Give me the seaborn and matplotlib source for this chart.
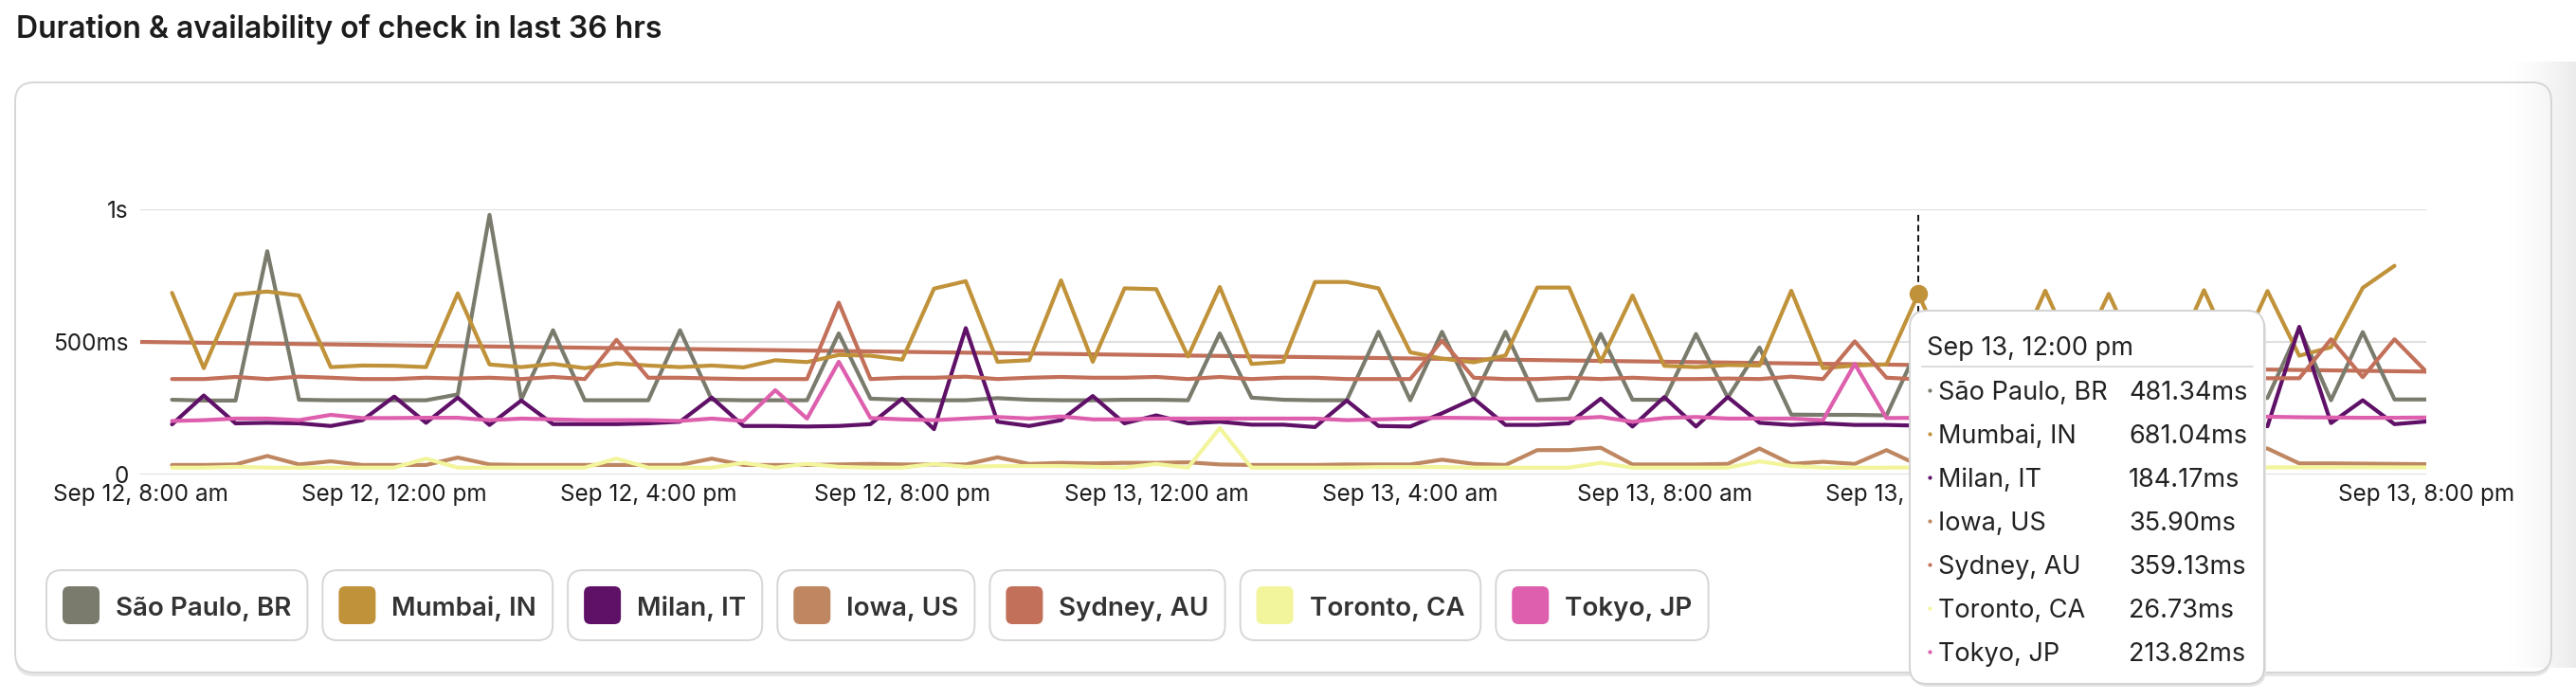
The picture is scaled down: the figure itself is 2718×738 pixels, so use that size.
import numpy as np
import pandas as pd
import matplotlib
matplotlib.use('Agg')
import matplotlib.pyplot as plt
from matplotlib.patches import FancyBboxPatch
from matplotlib.lines import Line2D
from matplotlib.colors import LinearSegmentedColormap
import seaborn as sns

#locations and their colours, same order as the legend
locations = ['São Paulo, BR', 'Mumbai, IN', 'Milan, IT', 'Iowa, US', 'Sydney, AU', 'Toronto, CA', 'Tokyo, JP']
colors = ['#7B7B6D', '#C0923A', '#5F1067', '#BE8761', '#C2705A', '#F2F59B', '#DD5FAD']

#one check every 30 min
times = pd.date_range('2023-09-12 08:30', periods=72, freq='30min')

sao_paulo = [282, 279, 279, 842, 282, 280, 280, 280, 280, 302, 979, 282, 544, 280, 280, 280,
             544, 282, 280, 280, 280, 532, 286, 282, 280, 280, 288, 282, 280, 280, 282, 282, 280, 532, 290, 282,
             280, 280, 538, 280, 538, 290, 538, 280, 286, 530, 282, 282, 530, 290, 479, 226, 225, 225, 223,
             481.34,
             282, 280, 530, 282, 280, 535, 285, 280, 282, 280,
             289, 551, 280, 537, 283, 283]
mumbai = [685, 401, 679, 690, 675, 405, 411, 410, 405, 683, 415, 405, 417, 401, 419, 411,
          405, 411, 404, 431, 424, 451, 448, 433, 701, 729, 425, 431, 732, 425, 702, 699, 445, 707, 417, 425,
          726, 726, 702, 461, 437, 423, 449, 705, 705, 425, 675, 410, 405, 413, 411, 693, 401, 411, 415,
          681.04,
          420, 415, 425, 693, 430, 681, 420, 425, 695, 430,
          692, 448, 480, 704, 787, np.nan]
milan = [189, 298, 193, 195, 193, 183, 205, 294, 195, 290, 187, 279, 190, 190, 190, 193,
         199, 290, 183, 183, 181, 183, 190, 286, 171, 552, 199, 183, 205, 296, 193, 223, 193, 199, 188, 188,
         179, 279, 183, 181, 231, 286, 187, 187, 193, 286, 181, 292, 181, 292, 195, 187, 193, 187, 187,
         184.17,
         190, 285, 188, 192, 280, 190, 187, 290, 190, 188,
         182, 557, 194, 280, 190, 200]
iowa = [36, 36, 38, 70, 38, 50, 36, 36, 36, 64, 38, 36, 36, 36, 36, 36,
        36, 60, 36, 36, 36, 38, 40, 38, 38, 38, 65, 40, 44, 42, 44, 44, 46, 38, 36, 36,
        36, 38, 38, 38, 56, 40, 36, 92, 92, 101, 38, 38, 38, 40, 98, 40, 48, 40, 92,
        35.90,
        38, 40, 38, 92, 40, 38, 40, 38, 92, 100,
        98, 42, 42, 41, 40, 39]
sydney = [360, 360, 368, 360, 369, 365, 360, 360, 365, 362, 365, 360, 368, 360, 508, 365,
          365, 362, 360, 360, 360, 648, 360, 365, 365, 369, 360, 365, 368, 365, 365, 368, 360, 368, 360, 365,
          365, 360, 360, 360, 505, 365, 360, 360, 365, 360, 365, 360, 360, 362, 360, 369, 360, 502, 365,
          359.13,
          362, 365, 505, 362, 360, 365, 505, 362, 360, 365,
          363, 363, 510, 367, 510, 388]
toronto = [26, 26, 29, 26, 26, 26, 26, 26, 60, 26, 26, 26, 26, 26, 60, 26,
           26, 26, 44, 26, 40, 29, 26, 26, 40, 29, 32, 32, 32, 29, 26, 40, 26, 175, 26, 26,
           26, 26, 28, 28, 28, 26, 26, 26, 26, 44, 26, 26, 26, 26, 50, 32, 26, 26, 26,
           26.73,
           26, 26, 26, 26, 26, 26, 26, 26, 26, 26,
           27, 27, 27, 27, 27, 27]
tokyo = [202, 205, 211, 211, 205, 225, 213, 213, 214, 214, 205, 211, 208, 205, 205, 205,
         202, 211, 202, 318, 211, 425, 213, 208, 205, 211, 217, 211, 219, 208, 208, 211, 211, 211, 211, 211,
         211, 205, 208, 211, 214, 213, 211, 211, 211, 217, 199, 213, 217, 211, 211, 211, 205, 417, 213,
         213.82,
         211, 213, 211, 210, 212, 211, 213, 211, 212, 215,
         218, 216, 215, 214, 214, 215]

#straight trend line across the whole window
trend_times = pd.to_datetime(['2023-09-12 08:00', '2023-09-13 20:00'])
trend_ms = [500, 388]

#the 4:00 pm label on Sep 13 sits under the tooltip, so it stays blank
tick_times = pd.date_range('2023-09-12 08:00', periods=10, freq='4h')
tick_labels = ['Sep 12, 8:00 am', 'Sep 12, 12:00 pm', 'Sep 12, 4:00 pm', 'Sep 12, 8:00 pm',
               'Sep 13, 12:00 am', 'Sep 13, 4:00 am', 'Sep 13, 8:00 am', 'Sep 13, 12:00 pm',
               '', 'Sep 13, 8:00 pm']
y_ticks = [0, 500, 1000]
y_labels = ['0', '500ms', '1s']

hover_idx = 55
hover_label = 'Sep 13, 12:00 pm'

series = [sao_paulo, mumbai, milan, iowa, sydney, toronto, tokyo]
df = pd.DataFrame({'time': np.tile(times, len(locations)),
                   'location': np.repeat(locations, len(times)),
                   'ms': np.concatenate([np.array(s, dtype=float) for s in series])})

sns.set_style('white')
plt.rcParams['font.family'] = ['Inter', 'DejaVu Sans']

W, H = 2718, 738
fig = plt.figure(figsize=(W / 100, H / 100), dpi=100)
fig.patch.set_facecolor('white')


def px_box(x0, y0, x1, y1, r, **kw):
    p = FancyBboxPatch((x0 / 100, (H - y1) / 100), (x1 - x0) / 100, (y1 - y0) / 100,
                       boxstyle=f'round,pad=0,rounding_size={r / 100}',
                       transform=fig.dpi_scale_trans, **kw)
    fig.add_artist(p)
    return p


def px_text(x, y, s, **kw):
    return fig.text(x / W, 1 - y / H, s, **kw)


#card behind the chart
px_box(16, 90, 2692, 714, 20, fc='#E6E6E6', ec='none', zorder=-5)
px_box(16, 87, 2692, 710, 20, fc='white', ec='none', zorder=-4)
gax = fig.add_axes([2645 / W, 1 - 705 / H, (W - 2645) / W, (705 - 65) / H], zorder=-3)
gax.imshow(np.linspace(0, 1, 200)[None, :] ** 1.5, aspect='auto',
           cmap=LinearSegmentedColormap.from_list('shade', ['#FFFFFF', '#EBEBEB']))
gax.axis('off')
px_box(16, 87, 2692, 710, 20, fc='none', ec='#D6D6D6', lw=1.4, zorder=-2)

px_text(17, 31, 'Duration & availability of check in last 36 hrs', fontsize=23,
        fontweight='semibold', color='#1C1C1C', va='center', ha='left')

#chart area
ax = fig.add_axes([148 / W, 1 - 501 / H, (2560 - 148) / W, 280 / H])
ax.set_facecolor('none')
sns.lineplot(x=trend_times, y=trend_ms, color=colors[4], linewidth=3.0, ax=ax)
sns.lineplot(data=df, x='time', y='ms', hue='location', hue_order=locations, palette=colors,
             linewidth=3.0, estimator=None, legend=False, ax=ax)

ax.set_xlim(tick_times[0], tick_times[-1])
ax.set_ylim(0, 1000)
ax.set_xticks(tick_times)
ax.set_xticklabels(tick_labels)
ax.set_yticks(y_ticks)
ax.set_yticklabels(y_labels)
ax.set_xlabel('')
ax.set_ylabel('')
ax.grid(axis='y', color='#DFDFDF', lw=1.5)
ax.grid(axis='x', visible=False)
ax.set_axisbelow(True)
for sp in ax.spines.values():
    sp.set_visible(False)
ax.tick_params(length=0, labelsize=17.5, colors='#1E1E1E')
ax.tick_params(axis='y', pad=9)
ax.tick_params(axis='x', pad=7)

#hover marker
ax.axvline(times[hover_idx], ymin=0, ymax=0.985, color='#111111', lw=1.4, ls=(0, (3.5, 2)), zorder=4)
ax.plot([times[hover_idx]], [mumbai[hover_idx]], 'o', ms=13, color=colors[1], zorder=5, clip_on=False)

#legend chips
fig.canvas.draw()
rend = fig.canvas.get_renderer()
x = 49
for name, c in zip(locations, colors):
    t = px_text(x + 73, 650, name, fontsize=20, fontweight='semibold', color='#333333',
                va='baseline', ha='left', zorder=2)
    w = t.get_window_extent(rend).width
    px_box(x, 602, x + 73 + w + 17, 676, 16, fc='white', ec='#D6D6D6', lw=1.4, zorder=1)
    px_box(x + 17, 619, x + 56, 659, 7, fc=c, ec='none', zorder=2)
    x = x + 73 + w + 17 + 16

#tooltip
px_box(2017, 331, 2391, 725, 18, fc='#E4E4E4', ec='none', zorder=3)
px_box(2015, 328, 2389, 722, 18, fc='white', ec='#D3D3D3', lw=1.4, zorder=3.1)
px_text(2033, 375, hover_label, fontsize=19.5, color='#222222', va='baseline', ha='left', zorder=3.2)
fig.add_artist(Line2D([2028 / W, 2377 / W], [1 - 387 / H, 1 - 387 / H], color='#DDDDDD', lw=1.5, zorder=3.2))
for k, (name, c, s) in enumerate(zip(locations, colors, series)):
    yb = 422 + 46 * k
    fig.add_artist(Line2D([2036 / W], [1 - (yb - 10) / H], marker='o', ms=2, color=c, zorder=3.2))
    px_text(2045, yb, name, fontsize=19.5, color='#222222', va='baseline', ha='left', zorder=3.2)
    px_text(2246, yb, f'{s[hover_idx]:.2f}ms', fontsize=19.5, color='#222222', va='baseline', ha='left', zorder=3.2)

fig.savefig('out.png', dpi=100)
